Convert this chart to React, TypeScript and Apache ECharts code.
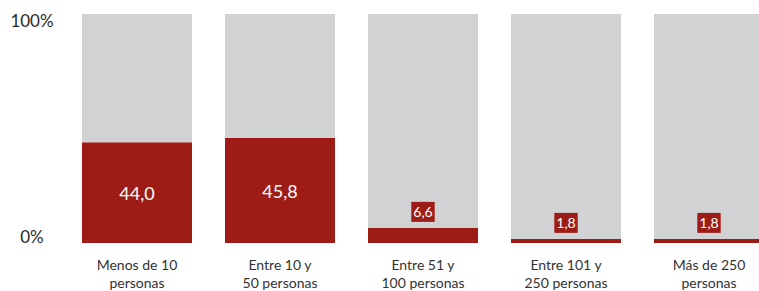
import React, { useEffect, useRef } from "react";
import * as echarts from "echarts";

const categories = [
  "Menos de 10\npersonas",
  "Entre 10 y\n50 personas",
  "Entre 51 y\n100 personas",
  "Entre 101 y\n250 personas",
  "Más de 250\npersonas",
];
const values = [44.0, 45.8, 6.6, 1.8, 1.8];
const yTicks = [0, 100];

const RED = "#9d1d16";
const GRAY = "#d1d2d4";
const FONT = "Lato";

export default function App() {
  const ref = useRef<HTMLDivElement>(null);
  useEffect(() => {
    if (!ref.current) return;
    const chart = echarts.init(ref.current, null, { renderer: "svg" });
    const fmt = (v: number) => v.toFixed(1).replace(".", ",");
    chart.setOption({
      animation: false,
      textStyle: { fontFamily: FONT },
      grid: { left: 65.5, width: 715, top: 14, bottom: 48 },
      xAxis: {
        type: "category",
        data: categories,
        axisLine: { show: false },
        axisTick: { show: false },
        axisLabel: {
          interval: 0,
          fontSize: 14,
          lineHeight: 18,
          color: "#333",
          margin: 12,
          fontFamily: FONT,
        },
      },
      yAxis: {
        type: "value",
        min: yTicks[0],
        max: yTicks[1],
        interval: 100,
        splitLine: { show: false },
        axisLine: { show: false },
        axisTick: { show: false },
        axisLabel: {
          formatter: "{value}%",
          align: "center",
          margin: 33.5,
          fontSize: 17,
          lineHeight: 13,
          color: "#2a2a2a",
          fontFamily: FONT,
          verticalAlignMinLabel: "bottom",
          verticalAlignMaxLabel: "top",
        },
      },
      series: [
        {
          type: "bar",
          stack: "t",
          barWidth: 110,
          itemStyle: { color: RED },
          data: values.map((v) => ({
            value: v,
            label:
              v > 20
                ? {
                    show: true,
                    position: "inside",
                    formatter: () => fmt(v),
                    color: "#fff",
                    fontSize: 18,
                    fontFamily: FONT,
                  }
                : {
                    show: true,
                    position: "top",
                    distance: 6,
                    formatter: () => fmt(v),
                    color: "#fff",
                    fontSize: 14,
                    lineHeight: 16,
                    fontFamily: FONT,
                    backgroundColor: RED,
                    padding: [2, 2, 2, 2],
                  },
          })),
        },
        {
          type: "bar",
          stack: "t",
          barWidth: 110,
          itemStyle: { color: GRAY },
          data: values.map((v) => 100 - v),
        },
      ],
    });
    return () => chart.dispose();
  }, []);
  return (
    <div
      style={{
        position: "absolute",
        left: 0,
        top: 0,
        width: 759,
        height: 291,
        overflow: "hidden",
      }}
    >
      <div ref={ref} style={{ width: 790, height: 291 }} />
    </div>
  );
}
